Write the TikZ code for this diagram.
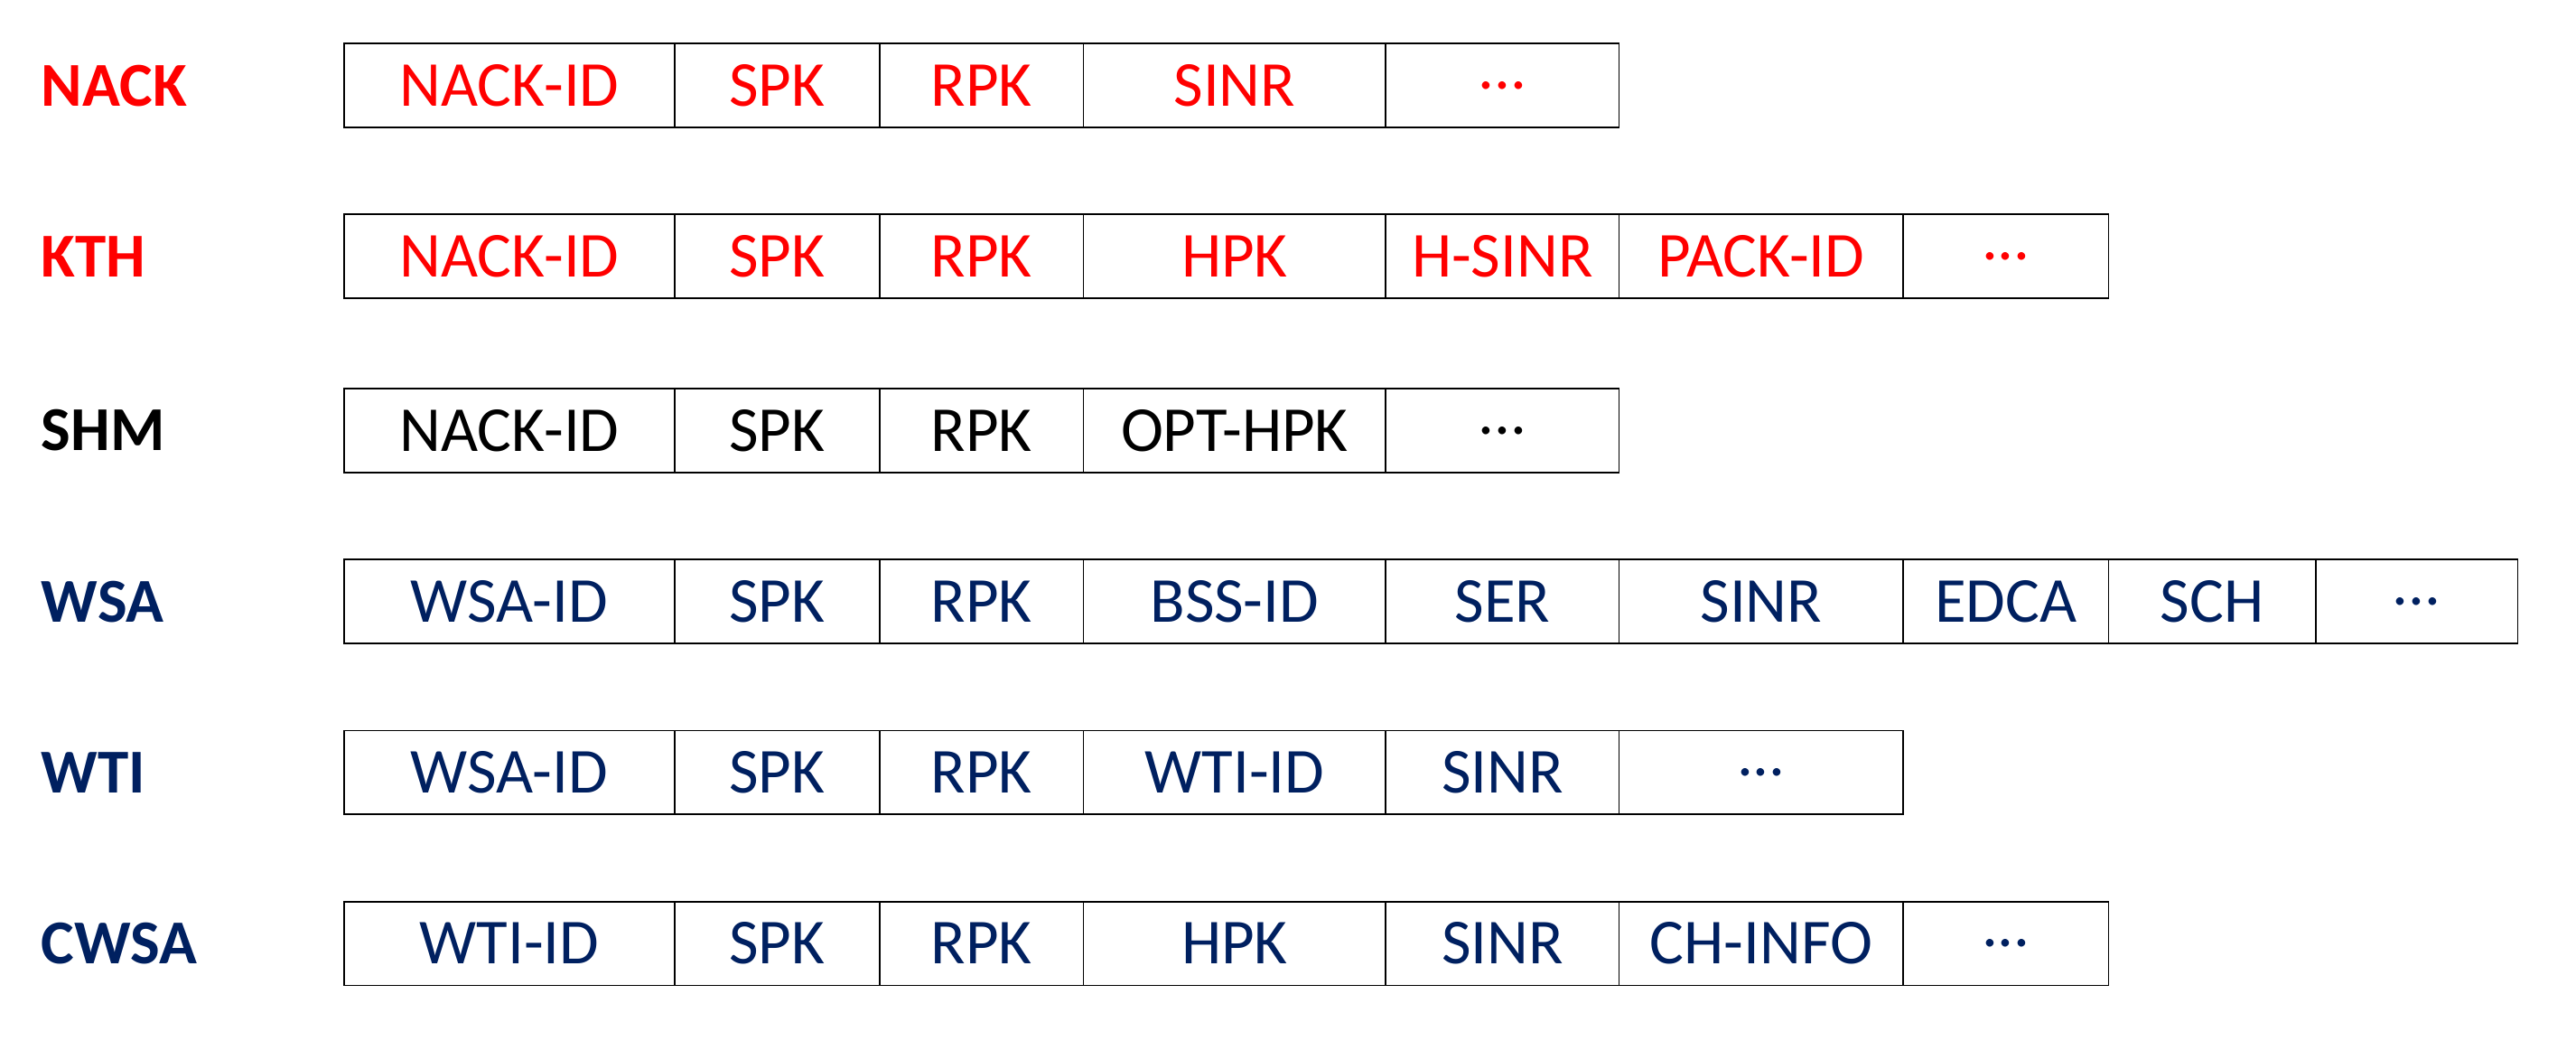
\documentclass[tikz,border=0pt]{standalone}
\usepackage{fontspec}
\setmainfont{Carlito}
\definecolor{nred}{RGB}{255,0,0}
\definecolor{navy}{RGB}{0,32,96}
\newcommand\fdots{...}
\begin{document}
\begin{tikzpicture}[x=1pt,y=-1pt,
  fld/.style={draw=black,line width=1pt,inner sep=0pt,font=\fontsize{39}{44}\selectfont},
  lbl/.style={anchor=west,inner sep=0pt,font=\bfseries\fontsize{38}{44}\selectfont}]
\useasboundingbox (0,0) rectangle (1568,633);
\newcommand\fieldrow[5]{% name, y, color, label, list of x0/x1/text
  \node[lbl,text=#3] (#1-lbl) at (25,#2) {#4};
  \foreach \a/\b/\t [count=\i] in {#5}{
    \node[fld,text=#3,minimum width={\b-\a},minimum height=51,anchor=west] (#1-\i) at (\a,#2) {\t};
  }}
\fieldrow{nack}{52}{nred}{NACK}{209/410/NACK-ID,410/535/SPK,535/659/RPK,659/843/SINR,843/985/\fdots}
\fieldrow{kth}{156}{nred}{KTH}{209/410/NACK-ID,410/535/SPK,535/659/RPK,659/843/HPK,843/985/H-SINR,985/1158/PACK-ID,1158/1283/\fdots}
\fieldrow{shm}{262}{black}{SHM}{209/410/NACK-ID,410/535/SPK,535/659/RPK,659/843/OPT-HPK,843/985/\fdots}
\fieldrow{wsa}{366}{navy}{WSA}{209/410/WSA-ID,410/535/SPK,535/659/RPK,659/843/BSS-ID,843/985/SER,985/1158/SINR,1158/1283/EDCA,1283/1409/SCH,1409/1532/\fdots}
\fieldrow{wti}{470}{navy}{WTI}{209/410/WSA-ID,410/535/SPK,535/659/RPK,659/843/WTI-ID,843/985/SINR,985/1158/\fdots}
\fieldrow{cwsa}{574}{navy}{CWSA}{209/410/WTI-ID,410/535/SPK,535/659/RPK,659/843/HPK,843/985/SINR,985/1158/CH-INFO,1158/1283/\fdots}
\end{tikzpicture}
\end{document}
